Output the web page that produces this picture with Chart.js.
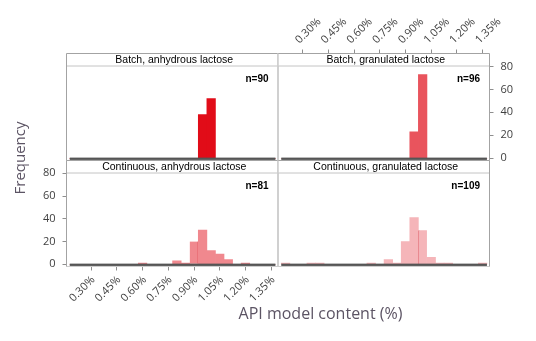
<!DOCTYPE html>
<html>
<head>
<meta charset="utf-8">
<script src="https://cdn.jsdelivr.net/npm/chart.js@4/dist/chart.umd.min.js"></script>
<style>
  html, body { margin: 0; padding: 0; background: #fff; }
  #wrap { position: relative; width: 536px; height: 341px; overflow: hidden; }
  #wrap canvas { position: absolute; left: 0; top: 0; }
</style>
</head>
<body>
<div id="wrap"></div>
<script>
// Histogram bins of API content (%), 0.05 % wide, listed by bin centre
const binCenters = [0.20, 0.25, 0.30, 0.35, 0.40, 0.45, 0.50, 0.55, 0.60, 0.65, 0.70, 0.75,
                    0.80, 0.85, 0.90, 0.95, 1.00, 1.05, 1.10, 1.15, 1.20, 1.25, 1.30, 1.35];

// Frequency of tablets in each bin
const batchAnhydrous  = [0, 0, 0, 0, 0, 0, 0, 0, 0, 0, 0, 0, 0, 0, 0, 38, 52, 0, 0, 0, 0, 0, 0, 0];
const batchGranulated = [0, 0, 0, 0, 0, 0, 0, 0, 0, 0, 0, 0, 0, 0, 0, 23, 73, 0, 0, 0, 0, 0, 0, 0];
const contAnhydrous   = [0, 0, 0, 0, 0, 0, 0, 0, 1, 0, 0, 0, 3, 1, 20, 30, 12, 9, 4, 0, 1, 0, 0, 0];
const contGranulated  = [1, 0, 0, 1, 1, 0, 0, 0, 0, 0, 1, 0, 4, 1, 20, 41, 30, 6, 1, 1, 0, 0, 0, 1];

const panelTitles = ['Batch, anhydrous lactose', 'Batch, granulated lactose',
                     'Continuous, anhydrous lactose', 'Continuous, granulated lactose'];
const panelN = [90, 96, 81, 109];

const xTickValues = [0.30, 0.45, 0.60, 0.75, 0.90, 1.05, 1.20, 1.35];
const xTickLabels = ['0.30%', '0.45%', '0.60%', '0.75%', '0.90%', '1.05%', '1.20%', '1.35%'];
const yTickValues = [0, 20, 40, 60, 80];

const xTitle = 'API model content (%)';
const yTitle = 'Frequency';

// ---- layout of the 2 x 2 trellis (pixels) ----
const W = 536, H = 341;
const COLS = [[66.5, 278], [278, 489.5]];
const ROWS = [[53.5, 160.5], [160.5, 266.5]];
const STRIP = 12.5;            // height of the panel header strip
const X_MIN = 0.156, X_MAX = 1.39;
const Y_MIN = -2, Y_MAX = 91.3; // headroom above 80 holds the strip
const AXIS_W = 34, AXIS_H = 46;

const TICK_FONT = { family: 'Open Sans', size: 11 };
const TICK_COLOR = '#3f3f3f';
const TICK_MARK = '#8e8e8e';

const panels = [
  { counts: batchAnhydrous,  col: 0, row: 0, color: '#e10c18' },
  { counts: batchGranulated, col: 1, row: 0, color: '#e9545d', xPos: 'top', yPos: 'right' },
  { counts: contAnhydrous,   col: 0, row: 1, color: '#f0888e', xPos: 'bottom', yPos: 'left',
    seam: { bin: 14, side: 'right', color: '#e2505a' } },
  { counts: contGranulated,  col: 1, row: 1, color: '#f5b5b9',
    seam: { bin: 16, side: 'left', color: '#e8848b' } }
];

// Draws the trellis frame, header strip, baseline and n= label of one panel
const panelDecor = {
  id: 'panelDecor',
  afterDatasetsDraw(chart, args, opts) {
    const { ctx, chartArea: a, scales: { x, y } } = chart;
    const p = opts.panel;
    ctx.save();

    // thick baseline across the binned range
    const half = (binCenters[1] - binCenters[0]) / 2;
    const x0 = x.getPixelForValue(binCenters[0] - half);
    const x1 = x.getPixelForValue(binCenters[binCenters.length - 1] + half);
    const z = y.getPixelForValue(0);
    ctx.fillStyle = '#555555';
    ctx.fillRect(x0, z - 0.6, x1 - x0, 2.3);

    // header strip
    ctx.fillStyle = '#ffffff';
    ctx.fillRect(a.left, a.top, a.width, STRIP);
    ctx.strokeStyle = '#c4c4c4';
    ctx.lineWidth = 1;
    ctx.beginPath();
    ctx.moveTo(a.left, a.top + STRIP);
    ctx.lineTo(a.right, a.top + STRIP);
    ctx.stroke();

    ctx.fillStyle = '#000';
    ctx.font = '10.5px "Liberation Sans", Arial, sans-serif';
    ctx.textAlign = 'center';
    ctx.textBaseline = 'middle';
    ctx.fillText(p.title, (a.left + a.right) / 2 + 2, a.top + STRIP / 2 + 0.5);

    // n= label
    ctx.font = 'bold 10px "Liberation Sans", Arial, sans-serif';
    ctx.textAlign = 'right';
    ctx.fillText('n=' + p.n, a.right - 9.5, a.top + STRIP + 13);

    // frame: outer edges darker, column divider lighter
    const edge = (xa, ya, xb, yb, col, lw) => {
      ctx.strokeStyle = col; ctx.lineWidth = lw;
      ctx.beginPath(); ctx.moveTo(xa, ya); ctx.lineTo(xb, yb); ctx.stroke();
    };
    const dark = '#a3a3a3', light = '#cdcdcd';
    edge(a.left, a.top, a.right, a.top, dark, 1);
    edge(a.left, a.bottom, a.right, a.bottom, p.row === 0 ? dark : light, 1);
    edge(a.left, a.top, a.left, a.bottom, p.col === 0 ? dark : light, p.col === 0 ? 1 : 1.5);
    edge(a.right, a.top, a.right, a.bottom, p.col === 1 ? dark : light, p.col === 1 ? 1 : 1.5);
    ctx.restore();
  }
};

// Shared axis titles of the trellis
const axisTitles = {
  id: 'axisTitles',
  afterDraw(chart) {
    const ctx = chart.ctx;
    ctx.save();
    ctx.fillStyle = '#5c5464';
    ctx.textAlign = 'center';
    ctx.textBaseline = 'middle';
    ctx.font = '16px "Open Sans", sans-serif';
    ctx.fillText(xTitle, 320.5, 314);
    ctx.translate(21, 158);
    ctx.rotate(-Math.PI / 2);
    ctx.font = '15px "Open Sans", sans-serif';
    ctx.fillText(yTitle, 0, 0);
    ctx.restore();
  }
};

const wrap = document.getElementById('wrap');

panels.forEach((p, i) => {
  const canvas = document.createElement('canvas');
  canvas.width = W; canvas.height = H;
  canvas.style.width = W + 'px'; canvas.style.height = H + 'px';
  wrap.appendChild(canvas);

  const [left, right] = COLS[p.col];
  const [top, bottom] = ROWS[p.row];
  const padding = {
    left: left - (p.yPos === 'left' ? AXIS_W : 0),
    right: W - right - (p.yPos === 'right' ? AXIS_W : 0),
    top: top - (p.xPos === 'top' ? AXIS_H : 0),
    bottom: H - bottom - (p.xPos === 'bottom' ? AXIS_H : 0)
  };
  const onTop = p.xPos === 'top';

  const seam = p.seam;
  new Chart(canvas, {
    type: 'bar',
    data: {
      datasets: [{
        data: binCenters.map((c, k) => ({ x: c, y: p.counts[k] })),
        backgroundColor: p.color,
        borderColor: seam ? seam.color : p.color,
        borderWidth: (ctx) => (seam && ctx.dataIndex === seam.bin)
          ? { left: 0, right: 0, top: 0, bottom: 0, [seam.side]: 1 } : 0,
        borderSkipped: false,
        barPercentage: 1,
        categoryPercentage: 1
      }]
    },
    options: {
      responsive: false,
      animation: false,
      devicePixelRatio: 1,
      events: [],
      layout: { padding },
      plugins: {
        legend: { display: false },
        tooltip: { enabled: false },
        panelDecor: { panel: { title: panelTitles[i], n: panelN[i], row: p.row, col: p.col } }
      },
      scales: {
        x: {
          type: 'linear',
          display: !!p.xPos,
          position: p.xPos || 'bottom',
          min: X_MIN, max: X_MAX,
          offset: false,
          afterBuildTicks: (s) => { s.ticks = xTickValues.map(v => ({ value: v })); },
          afterFit: (s) => { if (p.xPos) s.height = AXIS_H; },
          grid: { drawOnChartArea: false, drawTicks: true, tickLength: 4, color: TICK_MARK, offset: false },
          border: { display: false },
          ticks: {
            autoSkip: false, minRotation: 45, maxRotation: 45,
            font: TICK_FONT, color: TICK_COLOR,
            padding: onTop ? 3 : 3,
            labelOffset: onTop ? 4 : 2,
            callback: (v, k) => xTickLabels[k]
          }
        },
        y: {
          type: 'linear',
          display: !!p.yPos,
          position: p.yPos || 'left',
          min: Y_MIN, max: Y_MAX,
          afterBuildTicks: (s) => { s.ticks = yTickValues.map(v => ({ value: v })); },
          afterFit: (s) => { if (p.yPos) s.width = AXIS_W; },
          grid: { drawOnChartArea: false, drawTicks: true, tickLength: 4, color: TICK_MARK },
          border: { display: false },
          ticks: { font: TICK_FONT, color: TICK_COLOR, padding: 7, callback: (v) => String(v) }
        }
      }
    },
    plugins: i === 2 ? [panelDecor, axisTitles] : [panelDecor]
  });
});
</script>
</body>
</html>
